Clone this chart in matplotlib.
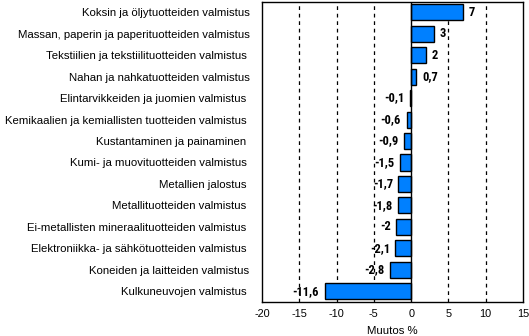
import matplotlib
matplotlib.use("Agg")
import matplotlib.pyplot as plt
from matplotlib import font_manager

categories = [
    "Koksin ja öljytuotteiden valmistus",
    "Massan, paperin ja paperituotteiden valmistus",
    "Tekstiilien ja tekstiilituotteiden valmistus ",
    "Nahan ja nahkatuotteiden valmistus",
    "Elintarvikkeiden ja juomien valmistus ",
    "Kemikaalien ja kemiallisten tuotteiden valmistus ",
    "Kustantaminen ja painaminen ",
    "Kumi- ja muovituotteiden valmistus ",
    "Metallien jalostus ",
    "Metallituotteiden valmistus ",
    "Ei-metallisten mineraalituotteiden valmistus ",
    "Elektroniikka- ja sähkötuotteiden valmistus ",
    "Koneiden ja laitteiden valmistus",
    "Kulkuneuvojen valmistus ",
]
values = [7, 3, 2, 0.7, -0.1, -0.6, -0.9, -1.5, -1.7, -1.8, -2, -2.1, -2.8, -11.6]
xticks = [-20, -15, -10, -5, 0, 5, 10, 15]
gridlines = [-15, -10, -5, 5, 10]

names = {f.name for f in font_manager.fontManager.ttflist}
narrow = "Liberation Sans"
for cand in ["Liberation Sans Narrow", "DejaVu Sans Condensed", "Roboto Condensed", "Open Sans Condensed"]:
    if cand in names:
        narrow = cand
        break

plt.rcParams['font.family'] = ['Liberation Sans', 'DejaVu Sans']

fig = plt.figure(figsize=(5.29, 3.36), dpi=100)
ax = fig.add_axes([262/529, 1 - 302/336, (523-262)/529, (302-1.5)/336])

y = list(range(len(categories)))
ax.barh(y, values, height=0.75, color="#0080FF", edgecolor="black", linewidth=1.0, zorder=3)

for g in gridlines:
    ax.axvline(g, color="black", linestyle=(0, (3, 3)), linewidth=0.9, zorder=1)
ax.axvline(0, color="black", linewidth=1.0, zorder=4)

for yi, v in zip(y, values):
    s = f"{v:g}".replace(".", ",")
    if v >= 0:
        ax.annotate(s, (v, yi), xytext=(4, 0), textcoords="offset points",
                    ha="left", va="center", fontsize=9, fontweight="bold",
                    family=[narrow, 'DejaVu Sans'], zorder=5)
    else:
        ax.annotate(s, (v, yi), xytext=(-4, 0), textcoords="offset points",
                    ha="right", va="center", fontsize=9, fontweight="bold",
                    family=[narrow, 'DejaVu Sans'], zorder=5)

ax.set_xlim(-20, 15)
ax.set_ylim(len(categories) - 0.5, -0.5)
ax.set_yticks(y)
ax.set_yticklabels(categories, fontsize=8.2)
ax.set_xticks(xticks)
ax.set_xticklabels([str(t) for t in xticks], fontsize=7.8)
ax.tick_params(axis="y", length=0, pad=9)
ax.tick_params(axis="x", length=0, pad=5)
ax.set_xlabel("Muutos %", fontsize=8.2, labelpad=5)
for sp in ax.spines.values():
    sp.set_linewidth(1.0)
    sp.set_color("black")

fig.savefig("out.png", dpi=100)
